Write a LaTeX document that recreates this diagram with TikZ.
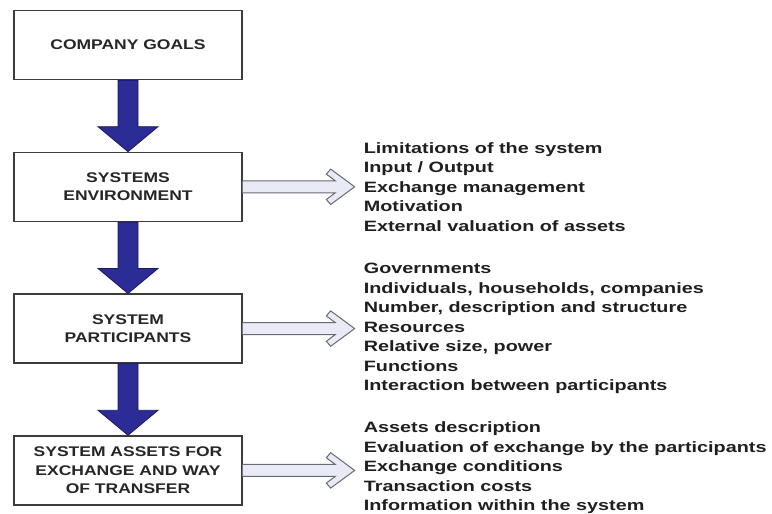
\documentclass[tikz,border=0pt]{standalone}
\usepackage{fontspec}
\usepackage{tikz}
\usetikzlibrary{positioning, calc}
\newfontfamily\boxfont{Liberation Sans}[FakeStretch=1.25]
\newfontfamily\listfont{Liberation Sans}[FakeStretch=1.32]
\definecolor{flowblue}{RGB}{44, 44, 150}
\definecolor{flownavy}{RGB}{25, 25, 90}
\definecolor{linkfill}{RGB}{232, 234, 246}
\definecolor{linkedge}{RGB}{105, 105, 115}
\definecolor{boxedge}{RGB}{60, 60, 60}

\begin{document}
\begin{tikzpicture}[
    x=1pt, y=-1pt,
    node distance=71.5pt,
    stage/.style={draw=boxedge, line width=1.3pt, fill=white, minimum width=228pt, minimum height=69pt,
        align=center, font=\boxfont\bfseries\fontsize{14pt}{18.5pt}\selectfont, text=black!85},
    items/.style={inner sep=0pt, align=left, font=\listfont\bfseries\fontsize{15pt}{19.5pt}\selectfont, text=black!88},
    downarrow/.style={fill=flowblue, draw=flownavy, line width=0.8pt, line join=miter},
    sidearrow/.style={fill=linkfill, draw=linkedge, line width=1pt, line join=miter}
]
    \useasboundingbox (0,0) rectangle (772,514);

    % --- stages ---
    \node[stage] (goals) at (128,45) {COMPANY GOALS};
    \node[stage, below=of goals] (env) {SYSTEMS\\ENVIRONMENT};
    \node[stage, below=of env] (parts) {SYSTEM\\PARTICIPANTS};
    \node[stage, below=of parts] (assets) {SYSTEM ASSETS FOR\\EXCHANGE AND WAY\\OF TRANSFER};

    % --- down arrows between stages ---
    \foreach \a/\b in {goals/env, env/parts, parts/assets}{
        \draw[downarrow] ($(\a.south)+(-10,0)$) -- ($(\b.north)+(-10,-25)$) -- ($(\b.north)+(-30,-25)$)
            -- (\b.north) -- ($(\b.north)+(30,-25)$) -- ($(\b.north)+(10,-25)$) -- ($(\a.south)+(10,0)$) -- cycle;
    }

    % --- side arrows ---
    \foreach \s in {env, parts, assets}{
        \coordinate (\s tip) at ($(\s.east)+(112,0)$);
        \draw[sidearrow] ($(\s.east)+(0,-6)$) -- ($(\s tip)+(-19.4,-6)$) -- ($(\s tip)+(-28.3,-12.7)$)
            -- ($(\s tip)+(-24,-17.7)$) -- (\s tip) -- ($(\s tip)+(-24,17.7)$) -- ($(\s tip)+(-28.3,12.7)$)
            -- ($(\s tip)+(-19.4,6)$) -- ($(\s.east)+(0,6)$);
    }

    % --- lists ---
    \node[items, right=9pt of envtip] (envlist) {Limitations of the system\\Input / Output\\Exchange management\\Motivation\\External valuation of assets};
    \node[items, right=9pt of partstip] (partslist) {Governments\\Individuals, households, companies\\Number, description and structure\\Resources\\Relative size, power\\Functions\\Interaction between participants};
    \node[items, right=9pt of assetstip, yshift=2.5pt] (assetslist) {Assets description\\Evaluation of exchange by the participants\\Exchange conditions\\Transaction costs\\Information within the system};

\end{tikzpicture}
\end{document}
